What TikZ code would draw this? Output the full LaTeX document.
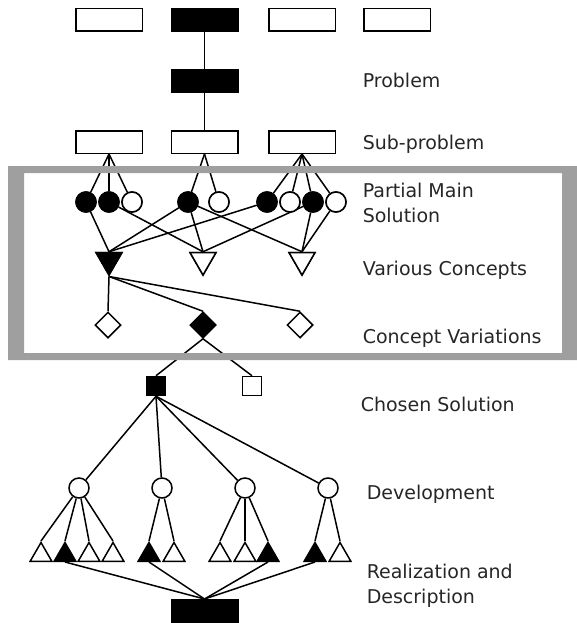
\documentclass[tikz,border=0pt]{standalone}
\usepackage{fontspec}
\setmainfont{DejaVu Sans}
\usetikzlibrary{shapes.geometric}
\begin{document}
\begin{tikzpicture}[x=1pt,y=-1pt, line width=1.5pt,
  box/.style={draw, rectangle, minimum width=66.5pt, minimum height=22.5pt, inner sep=0pt, fill=white},
  fbox/.style={box, fill=black},
  circ/.style={draw, circle, minimum size=20pt, inner sep=0pt, fill=white},
  fcirc/.style={circ, fill=black},
  vtri/.style={draw, regular polygon, regular polygon sides=3, shape border rotate=180, minimum size=30pt, inner sep=0pt, fill=white},
  fvtri/.style={vtri, fill=black},
  utri/.style={draw, regular polygon, regular polygon sides=3, minimum size=25pt, inner sep=0pt, fill=white},
  futri/.style={utri, fill=black},
  dia/.style={draw, diamond, minimum width=26pt, minimum height=26pt, inner sep=0pt, fill=white},
  fdia/.style={dia, fill=black},
  sq/.style={draw, rectangle, minimum size=19pt, inner sep=0pt, fill=white},
  fsq/.style={sq, fill=black},
  lbl/.style={anchor=base west, font=\fontsize{19}{25}\selectfont, inner sep=0pt, text=black!85},
  link/.style={draw, line width=1.5pt}
]
\useasboundingbox (0,0) rectangle (577,623);

% ---------- nodes ----------
\node[box]  (a1) at (109,20) {};
\node[fbox] (a2) at (204.5,20) {};
\node[box]  (a3) at (302,20) {};
\node[box]  (a4) at (397,20) {};
\node[fbox] (pb) at (204.5,81) {};
\node[box] (s1) at (109,142) {};
\node[box] (s2) at (204.5,142) {};
\node[box] (s3) at (302,142) {};
\node[fcirc] (c1) at (86,202) {};
\node[fcirc] (c2) at (109,202) {};
\node[circ]  (c3) at (132,202) {};
\node[fcirc] (c4) at (188,202) {};
\node[circ]  (c5) at (219,202) {};
\node[fcirc] (c6) at (267,202) {};
\node[circ]  (c7) at (290,202) {};
\node[fcirc] (c8) at (313,202) {};
\node[circ]  (c9) at (336,202) {};
\node[fvtri] (t1) at (109,260) {};
\node[vtri]  (t2) at (203,260) {};
\node[vtri]  (t3) at (302,260) {};
\node[dia]  (v1) at (108,325) {};
\node[fdia] (v2) at (203,325) {};
\node[dia]  (v3) at (300,325) {};
\node[fsq] (q1) at (156,386) {};
\node[sq]  (q2) at (252,386) {};
\node[circ] (d1) at (79,488) {};
\node[circ] (d2) at (162,488) {};
\node[circ] (d3) at (245,488) {};
\node[circ] (d4) at (328,488) {};
\node[utri]  (r1) at (41,555) {};
\node[futri] (r2) at (65,555) {};
\node[utri]  (r3) at (89,555) {};
\node[utri]  (r4) at (113,555) {};
\node[futri] (r5) at (149,555) {};
\node[utri]  (r6) at (174,555) {};
\node[utri]  (r7) at (220,555) {};
\node[utri]  (r8) at (245,555) {};
\node[futri] (r9) at (268,555) {};
\node[futri] (r10) at (315,555) {};
\node[utri]  (r11) at (340,555) {};
\node[fbox] (fin) at (204.5,611) {};

% ---------- connectors ----------
\path[link] (a2) -- (pb);
\path[link] (pb) -- (s2);
\foreach \c in {c1,c2,c3} \path[link] (s1.south) -- (\c);
\foreach \c in {c4,c5} \path[link] (s2.south) -- (\c);
\foreach \c in {c6,c7,c8,c9} \path[link] (s3.south) -- (\c);
\path[link] (c1) -- (t1.north);
\path[link] (c2) -- (t2.north);
\path[link] (c4) -- (t1.north);
\path[link] (c4) -- (t2.north);
\path[link] (c4) -- (t3.north);
\path[link] (c6) -- (t1.north);
\path[link] (c8) -- (t2.north);
\path[link] (c8) -- (t3.north);
\path[link] (c9) -- (t3.north);
\foreach \v in {v1,v2,v3} \path[link] (t1.south) -- (\v.north);
\path[link] (v2.south) -- (q1.north);
\path[link] (v2.south) -- (q2.north);
\foreach \d in {d1,d2,d3,d4} \path[link] (q1.south) -- (\d);
\foreach \r in {r1,r2,r3,r4} \path[link] (d1) -- (\r.north);
\foreach \r in {r5,r6} \path[link] (d2) -- (\r.north);
\foreach \r in {r7,r8,r9} \path[link] (d3) -- (\r.north);
\foreach \r in {r10,r11} \path[link] (d4) -- (\r.north);
\foreach \r in {r2,r5,r9,r10} \path[link] (\r.south) -- (fin.north);

% redraw shapes on top of connectors
\foreach \n in {c1,c2,c4,c6,c8} \node[fcirc] at (\n) {};
\foreach \n in {c3,c5,c7,c9} \node[circ] at (\n) {};
\node[fvtri] at (t1) {};
\node[vtri] at (t2) {};
\node[vtri] at (t3) {};

% ---------- frame ----------
\fill[gray!75, even odd rule] (8,166) rectangle (577,360) (24,173) rectangle (562,353);

% ---------- labels ----------
\node[lbl] (l1) at (362,88) {Problem};
\node[lbl] (l2) at (362,149) {Sub-problem};
\node[lbl, align=left, anchor=west] (l3) at (362,203) {Partial Main\\Solution};
\node[lbl] (l4) at (362,275) {Various Concepts};
\node[lbl] (l5) at (362,343) {Concept Variations};
\node[lbl] (l6) at (360,411) {Chosen Solution};
\node[lbl] (l7) at (366,499) {Development};
\node[lbl, align=left, anchor=west] (l8) at (366,586) {Realization and\\Description};
\end{tikzpicture}
\end{document}
